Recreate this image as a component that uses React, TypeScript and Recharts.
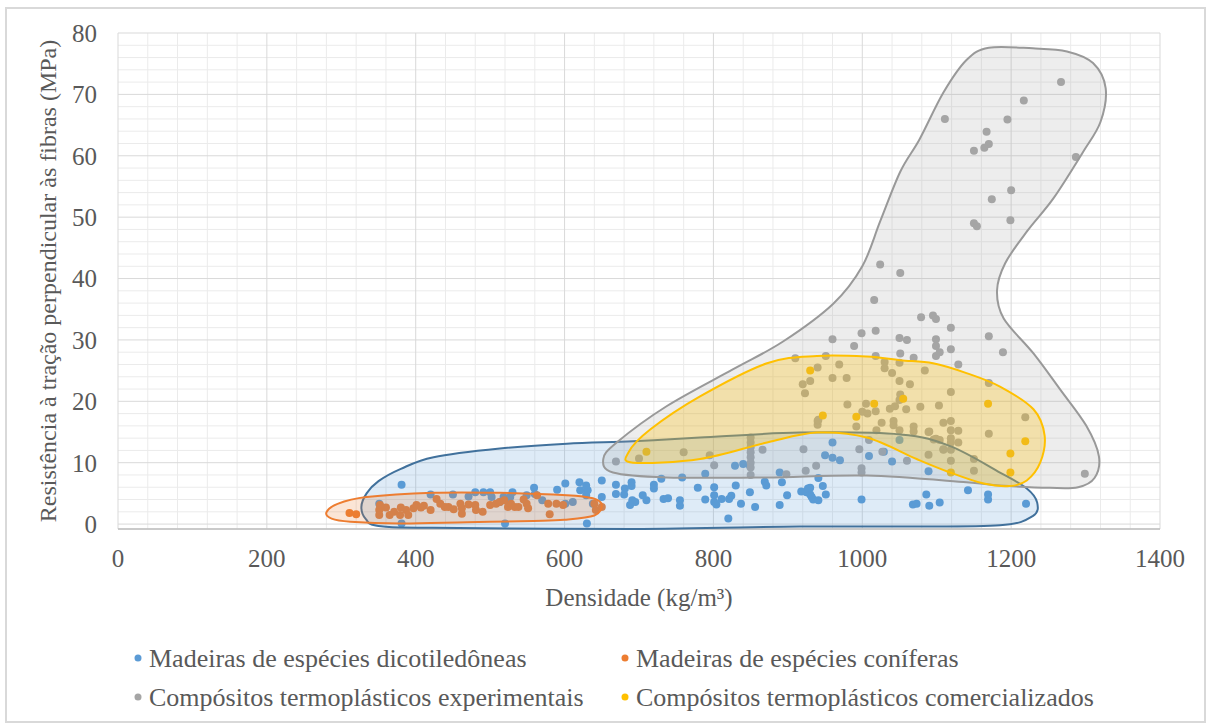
import React from 'react';
import { ScatterChart, Scatter, XAxis, YAxis, CartesianGrid } from 'recharts';

// ---------- tick labels ----------
const xTicks = [0, 200, 400, 600, 800, 1000, 1200, 1400];
const yTicks = [0, 10, 20, 30, 40, 50, 60, 70, 80];
const xMinorTicks: number[] = [];
for (let v = 40; v < 1400; v += 40) if (v % 200 !== 0) xMinorTicks.push(v);
const yMinorTicks: number[] = [];
for (let v = 2; v < 80; v += 2) if (v % 10 !== 0) yMinorTicks.push(v);

const xTitle = 'Densidade (kg/m³)';
const yTitle = 'Resistência à tração perpendicular às fibras (MPa)';

// ---------- series names / colours ----------
const seriesNames = [
  'Madeiras de espécies dicotiledôneas',
  'Madeiras de espécies coníferas',
  'Compósitos termoplásticos experimentais',
  'Compósitos termoplásticos comercializados',
];
const seriesColors = ['#5B9BD5', '#ED7D31', '#A5A5A5', '#FFC000'];

// ---------- data: [density, strength] ----------
const dicotiledoneas: [number, number][] = [
  [381, 6.4], [381, 0.1], [351, 3.3], [420, 4.8], [450, 4.8], [471, 4.5], [480, 5.2], [491, 5.2],
  [500, 5.2], [502, 4.4], [513, 3.6], [518, 4.4], [527, 4.4], [530, 5.2], [525, 3.3], [520, 0.1],
  [549, 4.7], [559, 5.9], [560, 4.9], [570, 3.9], [590, 5.6], [601, 6.6], [601, 3.3], [611, 3.6],
  [620, 6.8], [621, 5.5], [629, 6.3], [631, 5.5], [629, 4.7], [638, 3.3], [650, 7.1], [650, 4.4],
  [630, 0.1], [669, 6.4], [669, 4.9], [681, 5.8], [680, 4.8], [690, 6.8], [690, 6.2], [691, 3.9],
  [695, 3.6], [688, 3.1], [705, 4.7], [710, 3.9], [720, 6.4], [720, 5.8], [730, 7.4], [733, 4.1],
  [739, 4.2], [755, 3.9], [755, 3.0], [758, 7.6], [779, 5.9], [801, 6.0], [801, 4.7], [789, 4.0],
  [801, 3.6], [804, 3.2], [811, 4.1], [821, 4.1], [824, 4.6], [830, 6.3], [789, 8.2], [829, 9.5],
  [840, 9.8], [849, 9.5], [820, 0.9], [837, 3.3], [849, 5.2], [856, 2.8], [869, 6.9], [871, 6.3],
  [889, 8.4], [892, 6.8], [889, 3.1], [899, 4.7], [918, 5.3], [925, 5.2], [930, 4.8], [932, 4.4],
  [934, 4.0], [941, 3.9], [927, 5.8], [930, 5.9], [941, 7.5], [947, 6.2], [951, 4.8], [999, 4.0],
  [960, 13.3], [950, 11.2], [960, 10.8], [970, 10.4], [1009, 11.1], [1040, 10.2], [1050, 13.7],
  [1029, 11.8], [1089, 8.6], [1142, 5.5], [1169, 4.8], [1169, 4.0], [1086, 4.8], [1068, 3.2],
  [1073, 3.3], [1090, 3.0], [1104, 3.5], [1220, 3.3],
];

const coniferas: [number, number][] = [
  [311, 1.8], [320, 1.6], [351, 2.3], [351, 1.5], [352, 3.1], [360, 2.7], [365, 1.5], [371, 2.0],
  [379, 1.5], [387, 2.3], [390, 1.5], [397, 2.6], [401, 3.1], [407, 2.7], [411, 3.0], [428, 4.1],
  [433, 3.3], [439, 2.8], [444, 2.8], [451, 2.4], [460, 3.3], [462, 2.6], [462, 1.7], [471, 3.2],
  [480, 3.1], [481, 2.3], [500, 3.1], [508, 3.3], [513, 3.6], [519, 3.9], [524, 2.8], [528, 3.3],
  [533, 2.8], [538, 2.8], [549, 3.3], [551, 2.6], [563, 4.7], [578, 3.3], [580, 1.6], [589, 3.3],
  [598, 3.1], [640, 3.3], [642, 2.3], [650, 2.8], [380, 2.7], [420, 2.3], [490, 2.0], [545, 4.0],
];

const experimentais: [number, number][] = [
  [1267, 72.0], [1217, 69.0], [1111, 66.0], [1195, 65.9], [1167, 63.9], [1170, 61.9], [1164, 61.3],
  [1150, 60.8], [1287, 59.8], [1200, 54.4], [1174, 52.9], [1150, 49.0], [1154, 48.5], [1199, 49.5],
  [1051, 40.9], [1024, 42.3], [1016, 36.5], [1079, 33.7], [1095, 34.0], [1099, 33.4], [1119, 32.0],
  [1170, 30.6], [1050, 30.3], [1060, 30.0], [999, 31.1], [1018, 31.5], [960, 30.1], [989, 29.0],
  [1099, 30.1], [1099, 29.0], [1119, 28.5], [1099, 27.4], [1104, 28.0], [1069, 27.1], [1051, 27.8],
  [1189, 28.0], [1129, 26.0], [1084, 25.0], [1018, 27.4], [1030, 26.4], [1030, 25.4], [1040, 24.6],
  [1050, 26.3], [1050, 23.3], [1064, 22.8], [1170, 23.0], [1119, 21.5], [1051, 21.1], [1059, 18.7],
  [1078, 19.1], [1103, 19.3], [1219, 17.4], [910, 27.0], [951, 27.4], [940, 25.5], [969, 26.0],
  [930, 23.3], [920, 22.8], [923, 21.3], [960, 23.8], [979, 23.8], [980, 19.5], [1005, 19.6],
  [1000, 18.3], [1007, 18.0], [1018, 18.4], [1037, 18.8], [1044, 19.2], [1050, 20.2], [940, 16.8],
  [940, 16.2], [992, 15.9], [1026, 16.5], [1042, 16.8], [1042, 16.1], [1019, 15.3], [1050, 15.3],
  [1069, 15.9], [1069, 15.1], [1109, 16.5], [1119, 16.8], [1119, 15.3], [1129, 15.2], [1090, 15.1],
  [1096, 13.8], [1099, 13.9], [1104, 13.7], [1109, 12.2], [1119, 14.0], [1119, 13.3], [1129, 13.3],
  [1170, 14.7], [1009, 13.7], [996, 12.2], [1027, 11.8], [1089, 11.3], [1119, 10.3], [1150, 10.6],
  [1060, 10.3], [1150, 8.7], [1299, 8.2], [921, 12.2], [924, 8.7], [938, 9.5], [999, 9.1], [999, 8.4],
  [850, 14.1], [850, 13.3], [850, 12.5], [850, 11.7], [850, 10.9], [850, 10.0], [850, 9.2], [850, 8.0],
  [866, 12.1], [801, 9.6], [795, 11.2], [760, 11.7], [700, 10.7], [669, 10.2], [898, 8.1], [941, 17.0],
  [1109, 12.1], [1119, 12.1], [1089, 15.0],
];

const comercializados: [number, number][] = [
  [710, 11.8], [930, 25.0], [947, 17.7], [992, 17.5], [1016, 19.6], [1055, 20.4], [1169, 19.6],
  [1219, 13.5], [1199, 11.5], [1199, 8.4], [1119, 8.4],
];

// ---------- outline regions (boundary vertices in data units) ----------
const dicotRegion: [number, number][] = [
  [327, 2.8], [334, 5.0], [350, 7.0], [380, 9.0], [424, 10.9], [513, 12.3], [603, 13.1], [692, 13.5],
  [782, 14.1], [916, 14.9], [1051, 14.6], [1118, 12.7], [1185, 8.4], [1221, 5.8], [1235, 3.5],
  [1229, 1.3], [1185, -0.2], [1050, -0.4], [916, -0.4], [692, -0.8], [423, -0.6], [350, -0.3], [333, 0.8],
];
const conifRegion: [number, number][] = [
  [280, 1.9], [295, 3.3], [334, 4.4], [423, 5.1], [513, 5.1], [603, 4.7], [638, 4.2], [650, 3.1],
  [640, 1.4], [600, 0.7], [558, 0.5], [469, 0.3], [379, 0.1], [312, 0.4], [287, 0.9],
];
const expRegion: [number, number][] = [
  [652, 10.6], [670, 13.3], [737, 19.2], [826, 25.2], [893, 29.7], [961, 35.9], [1000, 42.0],
  [1024, 49.3], [1051, 57.4], [1077, 62.7], [1109, 70.3], [1140, 75.6], [1170, 77.6], [1229, 77.5],
  [1275, 77.0], [1310, 75.1], [1327, 71.0], [1320, 65.5], [1296, 60.5], [1257, 53.1], [1222, 47.8],
  [1192, 42.5], [1181, 38.0], [1190, 33.5], [1230, 27.8], [1266, 21.9], [1301, 16.0], [1318, 11.0],
  [1312, 7.5], [1290, 6.0], [1252, 5.9], [1185, 6.3], [1140, 6.8], [1006, 7.9], [871, 7.6],
  [737, 7.6], [665, 8.4],
];
const comRegion: [number, number][] = [
  [686, 11.7], [715, 15.4], [782, 20.8], [872, 26.2], [939, 27.4], [1006, 27.3], [1051, 26.7],
  [1095, 26.2], [1140, 24.6], [1185, 22.4], [1230, 18.7], [1245, 14.4], [1239, 10.0], [1221, 7.1],
  [1198, 6.2], [1163, 6.6], [1118, 8.4], [1073, 10.6], [1006, 14.1], [939, 14.9], [872, 13.3],
  [782, 10.6], [692, 10.0],
];

const toPts = (a: [number, number][]) => a.map(([x, y]) => ({ x, y }));

const FONT = "'Liberation Serif', 'Times New Roman', Times, serif";
const TEXT = '#595959';
const AXIS_FS = 25;
const YTITLE_FS = 24;
const LEGEND_FS = 26;
const textStyle = { fontFamily: FONT };

function closedPath(pts: { x: number; y: number }[]) {
  const n = pts.length;
  if (n < 3) return '';
  let d = `M${pts[0].x},${pts[0].y}`;
  for (let i = 0; i < n; i++) {
    const p0 = pts[(i - 1 + n) % n];
    const p1 = pts[i];
    const p2 = pts[(i + 1) % n];
    const p3 = pts[(i + 2) % n];
    const c1x = p1.x + (p2.x - p0.x) / 6;
    const c1y = p1.y + (p2.y - p0.y) / 6;
    const c2x = p2.x - (p3.x - p1.x) / 6;
    const c2y = p2.y - (p3.y - p1.y) / 6;
    d += ` C${c1x},${c1y} ${c2x},${c2y} ${p2.x},${p2.y}`;
  }
  return d + ' Z';
}

const regionLine = (stroke: string, fill: string, fillOpacity: number) => (props: any) => {
  const pts = (props.points || []).map((p: any) => ({ x: p.x ?? p.cx, y: p.y ?? p.cy }));
  return (
    <path d={closedPath(pts)} fill={fill} fillOpacity={fillOpacity} stroke={stroke} strokeWidth={2} />
  );
};

const dot = (color: string) => (p: any) =>
  p.cx == null ? <g /> : <circle cx={p.cx} cy={p.cy} r={4} fill={color} />;

const noShape = () => <g />;

const seriesData = [dicotiledoneas, coniferas, experimentais, comercializados];

export default function App() {
  return (
    <div style={{ position: 'absolute', left: 0, top: 0, width: 1208, height: 725, background: '#fff', fontFamily: FONT }}>
      <div
        style={{
          position: 'absolute', left: 5, top: 7, width: 1201, height: 716,
          border: '2px solid #d9d9d9', boxSizing: 'border-box',
        }}
      />
      <ScatterChart width={1208} height={725} margin={{ top: 33, right: 48, left: 18, bottom: 146 }}
        style={{ fontFamily: FONT }}>
        <CartesianGrid
          stroke="#ebebeb"
          verticalValues={xMinorTicks}
          horizontalValues={yMinorTicks}
        />
        <CartesianGrid stroke="#d9d9d9" />
        <XAxis
          type="number"
          dataKey="x"
          domain={[0, 1400]}
          ticks={xTicks}
          interval={0}
          height={50}
          tickSize={0}
          tickMargin={20}
          axisLine={{ stroke: '#bfbfbf', strokeWidth: 1.5 }}
          tickLine={false}
          tick={{ fontFamily: FONT, fontSize: AXIS_FS, fill: TEXT, style: textStyle }}
          label={{
            content: (p: any) => {
              const vb = p.viewBox || {};
              return (
                <text x={vb.x + vb.width / 2} y={597} textAnchor="middle" dominantBaseline="central"
                  style={textStyle} fontSize={AXIS_FS} fill={TEXT}>{xTitle}</text>
              );
            },
          }}
        />
        <YAxis
          type="number"
          dataKey="y"
          domain={() => [0, 80]}
          ticks={yTicks}
          interval={0}
          width={100}
          tickSize={0}
          tickMargin={21}
          axisLine={false}
          tickLine={false}
          tick={{ fontFamily: FONT, fontSize: AXIS_FS, fill: TEXT, style: textStyle }}
          label={{
            content: (p: any) => {
              const vb = p.viewBox || {};
              const cy = vb.y + vb.height / 2;
              return (
                <text x={48} y={cy} transform={`rotate(-90, 48, ${cy})`} textAnchor="middle"
                  dominantBaseline="central" style={textStyle} fontSize={YTITLE_FS} fill={TEXT}>{yTitle}</text>
              );
            },
          }}
        />
        {seriesData.map((d, i) => (
          <Scatter key={`s${i}`} name={seriesNames[i]} data={toPts(d)} fill={seriesColors[i]}
            shape={dot(seriesColors[i])} isAnimationActive={false} />
        ))}
        <Scatter data={toPts(dicotRegion)} line={regionLine('#41719C', '#5B9BD5', 0.2)} lineType="joint"
          shape={noShape} legendType="none" isAnimationActive={false} />
        <Scatter data={toPts(expRegion)} line={regionLine('#999999', '#A5A5A5', 0.2)} lineType="joint"
          shape={noShape} legendType="none" isAnimationActive={false} />
        <Scatter data={toPts(conifRegion)} line={regionLine('#ED7D31', '#ED7D31', 0.2)} lineType="joint"
          shape={noShape} legendType="none" isAnimationActive={false} />
        <Scatter data={toPts(comRegion)} line={regionLine('#FFC000', '#FFC000', 0.28)} lineType="joint"
          shape={noShape} legendType="none" isAnimationActive={false} />
      </ScatterChart>
      <svg width={1208} height={725} style={{ position: 'absolute', left: 0, top: 0, pointerEvents: 'none' }}>
        {seriesNames.map((name, i) => {
          const col = i % 2;
          const row = Math.floor(i / 2);
          const tx = col === 0 ? 149 : 636;
          const y = row === 0 ? 658 : 697;
          return (
            <g key={name}>
              <circle cx={tx - 11} cy={y} r={3.5} fill={seriesColors[i]} />
              <text x={tx} y={y} dominantBaseline="central" style={textStyle} fontSize={LEGEND_FS} fill={TEXT}>
                {name}
              </text>
            </g>
          );
        })}
      </svg>
    </div>
  );
}
